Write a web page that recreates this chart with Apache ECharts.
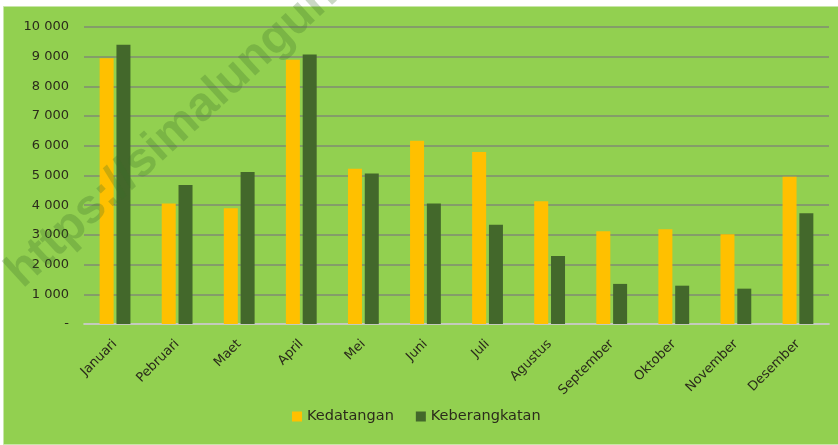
<!DOCTYPE html>
<html>
<head>
<meta charset="utf-8">
<script src="https://cdn.jsdelivr.net/npm/echarts@6/dist/echarts.min.js"></script>
<style>
  html, body { margin: 0; padding: 0; background: #fff; }
  #chart { width: 838px; height: 445px; }
</style>
</head>
<body>
<div id="chart"></div>
<script>
// data
const months = ['Januari', 'Pebruari', 'Maet', 'April', 'Mei', 'Juni', 'Juli', 'Agustus', 'September', 'Oktober', 'November', 'Desember']
const kedatangan = [8950, 4060, 3900, 8900, 5230, 6170, 5790, 4130, 3120, 3190, 3020, 4960]
const keberangkatan = [9400, 4680, 5120, 9070, 5070, 4060, 3340, 2290, 1350, 1290, 1190, 3730]

const font = 'DejaVu Sans'
const textColor = '#2b2b1b'

const chart = echarts.init(document.getElementById('chart'), null, { renderer: 'canvas' })

function fmt(v) {
  if (v === 0) return '-'
  return String(v).replace(/\B(?=(\d{3})+(?!\d))/g, ' ')
}

chart.setOption({
  backgroundColor: '#fff',
  animation: false,
  graphic: [
    {
      type: 'rect',
      left: 3, top: 6,
      shape: { width: 835, height: 438 },
      style: { fill: '#92d050', stroke: '#c8e6a8', lineWidth: 1 },
      z: -10
    },
    {
      // watermark, centred then rotated
      type: 'text',
      x: 172,
      y: 134,
      rotation: 0.743,
      style: {
        text: 'https://simalungun',
        font: 'bold 48px "Liberation Sans"',
        fill: 'rgba(60, 110, 40, 0.27)',
        align: 'center',
        verticalAlign: 'middle'
      },
      z: 100
    }
  ],
  grid: { left: 84, right: 9, top: 27, bottom: 121 },
  legend: {
    bottom: 16,
    left: 287,
    itemWidth: 10,
    itemHeight: 10,
    itemGap: 22,
    icon: 'rect',
    textStyle: { fontFamily: font, fontSize: 14.5, color: textColor },
    data: ['Kedatangan', 'Keberangkatan']
  },
  xAxis: {
    type: 'category',
    data: months,
    axisLine: { lineStyle: { color: '#d9d9d9', width: 1.5 } },
    axisTick: { show: false },
    axisLabel: {
      rotate: 45,
      margin: 18,
      interval: 0,
      fontFamily: font,
      fontSize: 13,
      color: textColor
    }
  },
  yAxis: {
    type: 'value',
    min: 0,
    max: 10000,
    interval: 1000,
    axisLine: { show: false },
    axisTick: { show: false },
    splitLine: { lineStyle: { color: '#7f8c72', width: 1.5 } },
    axisLabel: {
      margin: 15,
      fontFamily: font,
      fontSize: 13,
      color: textColor,
      formatter: fmt
    }
  },
  series: [
    {
      name: 'Kedatangan',
      type: 'bar',
      data: kedatangan,
      barWidth: 14,
      barGap: '20%',
      itemStyle: { color: '#ffc000' }
    },
    {
      name: 'Keberangkatan',
      type: 'bar',
      data: keberangkatan,
      barWidth: 14,
      barGap: '20%',
      itemStyle: { color: '#43682b' }
    }
  ]
})
</script>
</body>
</html>
